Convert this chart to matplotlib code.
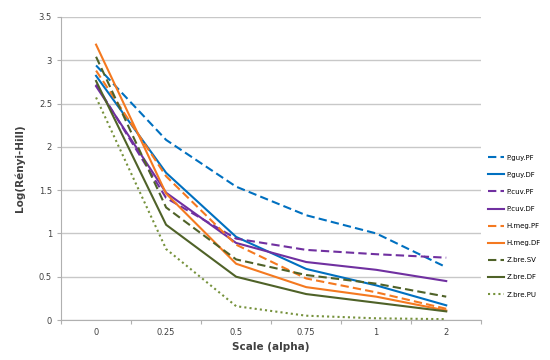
from matplotlib import pyplot as plt
import numpy as np

# categories on the x axis
scale = ['0', '0.25', '0.5', '0.75', '1', '2']

# series values
p_guy_pf = [2.94, 2.08, 1.54, 1.21, 1.00, 0.61]
p_guy_df = [2.82, 1.70, 0.96, 0.59, 0.40, 0.17]
p_cuv_pf = [2.72, 1.41, 0.94, 0.81, 0.76, 0.72]
p_cuv_df = [2.70, 1.47, 0.89, 0.67, 0.58, 0.45]
h_meg_pf = [2.88, 1.66, 0.87, 0.48, 0.32, 0.13]
h_meg_df = [3.18, 1.46, 0.65, 0.38, 0.27, 0.11]
z_bre_sv = [3.04, 1.30, 0.70, 0.52, 0.42, 0.27]
z_bre_df = [2.76, 1.10, 0.50, 0.30, 0.20, 0.10]
z_bre_pu = [2.57, 0.82, 0.16, 0.05, 0.02, 0.01]

names = ['P.guy.PF', 'P.guy.DF', 'P.cuv.PF', 'P.cuv.DF', 'H.meg.PF',
         'H.meg.DF', 'Z.bre.SV', 'Z.bre.DF', 'Z.bre.PU']
series = [p_guy_pf, p_guy_df, p_cuv_pf, p_cuv_df, h_meg_pf,
          h_meg_df, z_bre_sv, z_bre_df, z_bre_pu]

blue = '#0070C0'
purple = '#7030A0'
orange = '#F47920'
green = '#4F6228'
lgreen = '#76923C'
dash = (0, (4, 2))
colors = [blue, blue, purple, purple, orange, orange, green, green, lgreen]
styles = [dash, '-', dash, '-', dash, '-', dash, '-', (0, (1, 1.5))]

fig = plt.figure(figsize=(5.5, 3.6), dpi=100)
ax = fig.add_axes([0.111, 0.111, 0.764, 0.842])

x = np.arange(len(scale))
for name, vals, c, ls in zip(names, series, colors, styles):
    ax.plot(x, vals, color=c, linestyle=ls, lw=1.5, label=name)

ax.set_xlim(-0.5, len(scale) - 0.5)
ax.set_ylim(0, 3.5)
ax.set_yticks(np.arange(0, 3.51, 0.5))
ax.set_yticklabels(['0', '0.5', '1', '1.5', '2', '2.5', '3', '3.5'])
ax.yaxis.grid(True, color='#C8C8C8', lw=1)
ax.set_axisbelow(True)

# Excel-style category axis: ticks between categories
ax.set_xticks(np.arange(-0.5, len(scale), 1))
ax.set_xticklabels([])
ax.set_xticks(x, minor=True)
ax.set_xticklabels(scale, minor=True)
ax.tick_params(axis='x', which='major', length=3, color='#B0B0B0')
ax.tick_params(axis='x', which='minor', length=0, pad=6)
ax.tick_params(axis='both', which='both', labelsize=6, labelcolor='#404040')
ax.tick_params(axis='y', length=3, color='#B0B0B0')

for s in ['top', 'right']:
    ax.spines[s].set_visible(False)
for s in ['left', 'bottom']:
    ax.spines[s].set_color('#B0B0B0')

ax.set_xlabel('Scale (alpha)', fontsize=7.5, fontweight='bold', color='#404040', labelpad=3)
ax.set_ylabel('Log(Rényi-Hill)', fontsize=7.5, fontweight='bold', color='#404040', labelpad=10)

fig.legend(loc='center left', bbox_to_anchor=(0.875, 0.372), frameon=False,
           fontsize=5, handlelength=2.4, labelspacing=1.6, handletextpad=0.3)

plt.savefig('out.png')
